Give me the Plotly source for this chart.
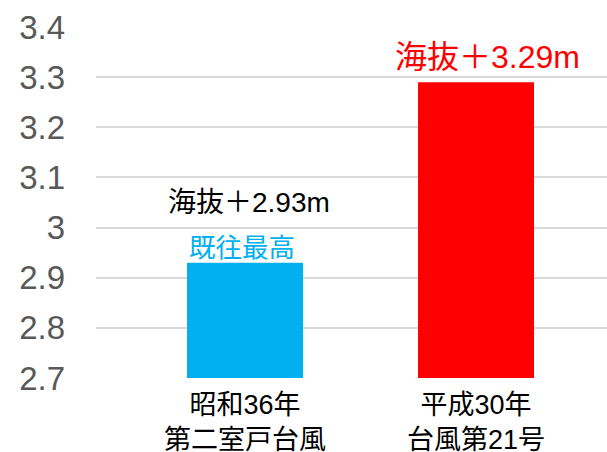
import plotly.graph_objects as go

categories = ["昭和36年<br>第二室戸台風", "平成30年<br>台風第21号"]
values = [2.93, 3.29]
bar_colors = ["#00B0F0", "#FF0000"]
y_ticks = [2.7, 2.8, 2.9, 3.0, 3.1, 3.2, 3.3, 3.4]
y_tick_labels = ["2.7", "2.8", "2.9", "3", "3.1", "3.2", "3.3", "3.4"]
value_labels = ["海抜＋2.93m", "海抜＋3.29m"]
record_label = "既往最高"

FONT = "Liberation Sans, Arial, Noto Sans CJK JP, sans-serif"

fig = go.Figure()
fig.add_trace(go.Bar(
    x=categories, y=values, marker_color=bar_colors, marker_line_width=0,
))

# annotations
fig.add_annotation(x=categories[0], y=values[0], text=value_labels[0],
                   showarrow=False, yanchor="middle", yshift=60, xshift=4,
                   font=dict(family=FONT, size=28, color="#000000"))
fig.add_annotation(x=categories[0], y=values[0], text=record_label,
                   showarrow=False, yanchor="middle", yshift=15, xshift=-3,
                   font=dict(family=FONT, size=26.5, color="#00B0F0"))
fig.add_annotation(x=categories[1], y=values[1], text=value_labels[1],
                   showarrow=False, yanchor="middle", yshift=25, xshift=11,
                   font=dict(family=FONT, size=32, color="#FF0000"))

fig.update_layout(
    width=607, height=452,
    margin=dict(l=96, r=0, t=27, b=74, autoexpand=False),
    paper_bgcolor="white", plot_bgcolor="white",
    showlegend=False,
    bargap=0.498,
    xaxis=dict(type="category", range=[-0.645, 1.567], showgrid=False,
               showline=False, zeroline=False, ticks="", automargin=False,
               ticklabelstandoff=8,
               tickfont=dict(family=FONT, size=27, color="#000000")),
    yaxis=dict(range=[2.7, 3.4], tickvals=y_ticks, ticktext=y_tick_labels,
               showgrid=True, gridcolor="#D9D9D9", gridwidth=2,
               zeroline=False, showline=False, ticks="", automargin=False,
               ticklabelstandoff=30,
               tickfont=dict(family=FONT, size=33, color="#595959")),
)

fig.write_html(
    "out.html",
    config={"displayModeBar": False},
    post_script="document.body.style.margin='0';document.body.style.overflow='hidden';",
)
